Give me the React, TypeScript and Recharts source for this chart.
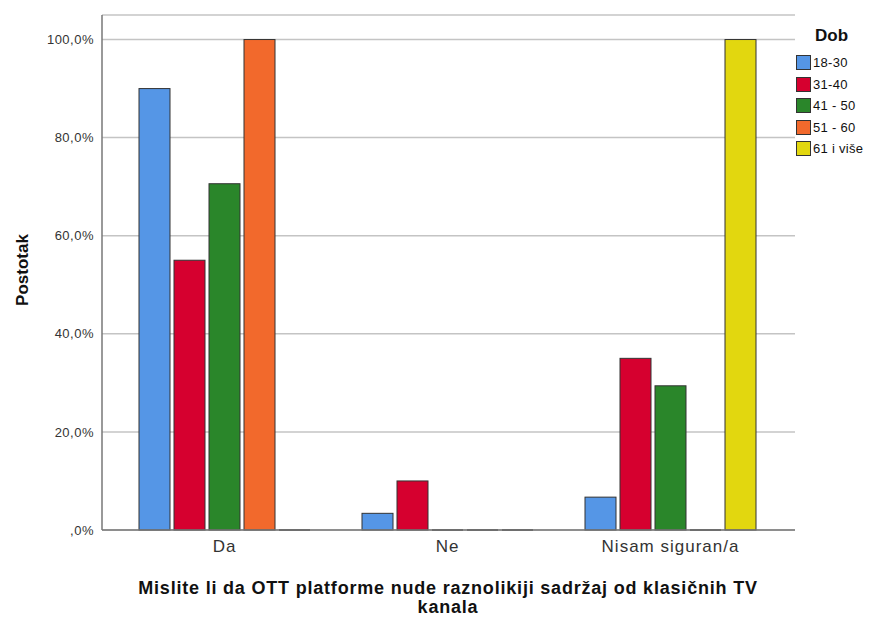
import { BarChart, Bar, XAxis, YAxis, CartesianGrid } from "recharts";

const categories = ["Da", "Ne", "Nisam siguran/a"];
const groups = ["18-30", "31-40", "41 - 50", "51 - 60", "61 i više"];
const colors = ["#5596e6", "#d6002f", "#2a862a", "#f2692c", "#e2d70f"];
// percentage per answer, one array per age group
const age18_30 = [90.0, 3.4, 6.7];
const age31_40 = [55.0, 10.0, 35.0];
const age41_50 = [70.6, 0, 29.4];
const age51_60 = [100.0, 0, 0];
const age61plus = [0, 0, 100.0];
const yTicks = [0, 20, 40, 60, 80, 100];

const series = [age18_30, age31_40, age41_50, age51_60, age61plus];

const data = categories.map((c, i) => {
  const row: any = { name: c };
  groups.forEach((g, j) => {
    row[g] = series[j][i];
  });
  return row;
});

const fmt = (v: number) => (v === 0 ? ",0%" : `${v},0%`);

const BarShape = (props: any) => {
  const { x, y, width, height, fill } = props;
  if (!height || height < 0.5) {
    return <line x1={x} x2={x + width} y1={y} y2={y} stroke="#555" strokeWidth={2} />;
  }
  return <rect x={x} y={y} width={width} height={height} fill={fill} stroke="#333" strokeWidth={1} />;
};

const App = () => {
  return (
    <div
      style={{
        position: "absolute",
        left: 0,
        top: 0,
        width: 878,
        height: 619,
        background: "#fff",
        fontFamily: "'Liberation Sans', Arial, sans-serif",
      }}
    >
      <BarChart
        width={878}
        height={619}
        data={data}
        margin={{ top: 15, right: 83, bottom: 59, left: 0 }}
        barSize={31}
        barGap={4}
      >
        <CartesianGrid vertical={false} stroke="#c4c4c4" strokeWidth={1.5} />
        <XAxis
          dataKey="name"
          height={30}
          padding={{ left: 11, right: 13 }}
          tickLine={false}
          tickSize={0}
          tickMargin={10}
          axisLine={{ stroke: "#777", strokeWidth: 1.5 }}
          tick={{ fill: "#333", fontSize: 17, letterSpacing: 1 }}
        />
        <YAxis
          width={102}
          domain={[0, 105]}
          ticks={yTicks}
          tickFormatter={fmt}
          tickLine={false}
          tickSize={0}
          tickMargin={8}
          axisLine={{ stroke: "#777", strokeWidth: 1.5 }}
          tick={{ fill: "#333", fontSize: 13, letterSpacing: 0.5 }}
        />
        {groups.map((g, i) => (
          <Bar key={g} dataKey={g} fill={colors[i]} shape={BarShape} isAnimationActive={false} />
        ))}
      </BarChart>

      <div
        style={{
          position: "absolute",
          left: 23,
          top: 270,
          transform: "translate(-50%, -50%) rotate(-90deg)",
          fontWeight: "bold",
          fontSize: 17,
          color: "#111",
          whiteSpace: "nowrap",
        }}
      >
        Postotak
      </div>

      <div
        style={{
          position: "absolute",
          left: 50,
          width: 796,
          top: 579,
          textAlign: "center",
          fontWeight: "bold",
          fontSize: 18,
          letterSpacing: 0.8,
          lineHeight: "19px",
          color: "#111",
        }}
      >
        Mislite li da OTT platforme nude raznolikiji sadržaj od klasičnih TV
        <br />
        kanala
      </div>

      <div style={{ position: "absolute", left: 796, top: 26, color: "#111" }}>
        <div style={{ fontWeight: "bold", fontSize: 17, marginLeft: 19, marginBottom: 6 }}>Dob</div>
        {groups.map((g, i) => (
          <div key={g} style={{ display: "flex", alignItems: "center", height: 21.5, fontSize: 13 }}>
            <span
              style={{
                display: "inline-block",
                width: 13,
                height: 13,
                background: colors[i],
                border: "1px solid #333",
                marginRight: 2,
              }}
            />
            <span style={{ letterSpacing: 0.3 }}>{g}</span>
          </div>
        ))}
      </div>
    </div>
  );
};

export default App;
